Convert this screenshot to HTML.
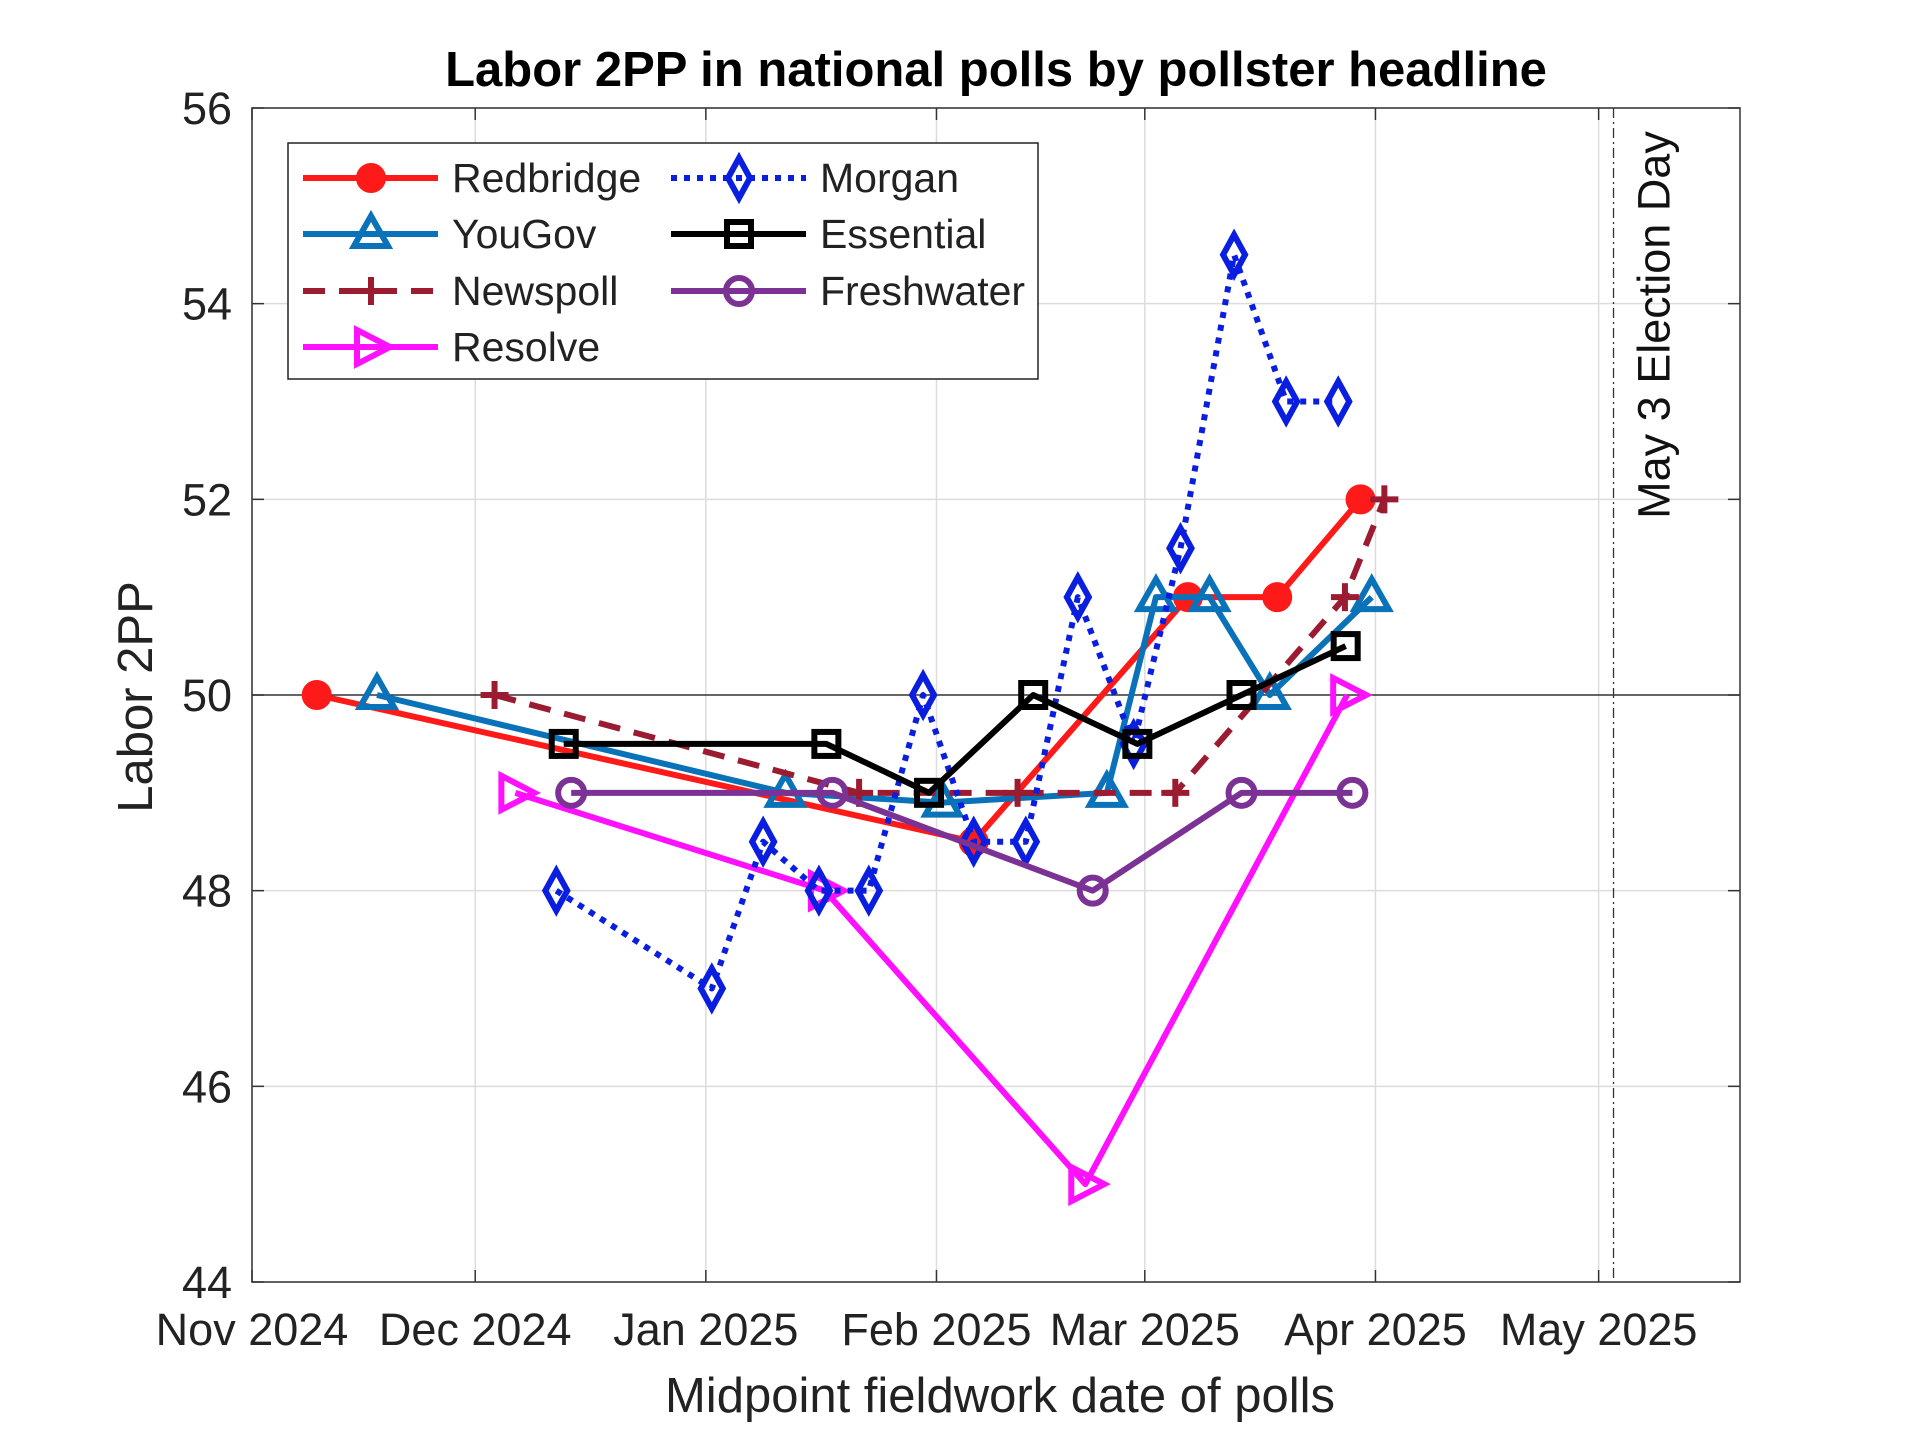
<!DOCTYPE html>
<html><head><meta charset="utf-8"><style>
html,body{margin:0;padding:0;background:#fff;}
svg{display:block;font-family:"Liberation Sans",Arial,sans-serif;}
</style></head><body>
<svg id="chart" width="1920" height="1439" viewBox="0 0 1920 1439" xmlns="http://www.w3.org/2000/svg">
<rect x="0" y="0" width="1920" height="1439" fill="#fff"/>
<text x="996" y="86" text-anchor="middle" font-size="49" font-weight="bold">Labor 2PP in national polls by pollster headline</text>
<g id="grid"></g>
<g id="axes"></g>
<g id="series"></g>
<g id="legend"></g>
</svg>
<script>
// Days since 1 Nov 2024
const xTickDays = [0, 30, 61, 92, 120, 151, 181];
const xTickLabels = ["Nov 2024","Dec 2024","Jan 2025","Feb 2025","Mar 2025","Apr 2025","May 2025"];
const yTicks = [44, 46, 48, 50, 52, 54, 56];
const electionDay = 183;

const redbridgeDays = [8.7, 97, 125.8, 137.8, 149];
const redbridgeVals = [50, 48.5, 51, 51, 52];
const yougovDays = [16.8, 71.7, 92.8, 114.9, 121.5, 128.7, 136.8, 150.5];
const yougovVals = [50, 49, 48.9, 49, 51, 51, 50, 51];
const newspollDays = [32.6, 81.6, 102.9, 124.1, 146.9, 152.2];
const newspollVals = [50, 49, 49, 49, 51, 52];
const resolveDays = [35.4, 77, 112, 147.2];
const resolveVals = [49, 48, 45, 50];
const morganDays = [40.9, 61.8, 68.7, 76.2, 82.9, 90.2, 97, 104, 111, 118.5, 124.8, 132, 139, 146];
const morganVals = [48, 47, 48.5, 48, 48, 50, 48.5, 48.5, 51, 49.5, 51.5, 54.5, 53, 53];
const essentialDays = [41.9, 77.2, 91, 105, 119, 133, 147];
const essentialVals = [49.5, 49.5, 49, 50, 49.5, 50, 50.5];
const freshwaterDays = [42.9, 78, 113, 133, 147.9];
const freshwaterVals = [49, 49, 48, 49, 49];

const L=252,R=1740,T=108,B=1282;
const X0=0,X1=200,Y0=44,Y1=56;
const xs=d=>L+(d-X0)/(X1-X0)*(R-L);
const ys=v=>B-(v-Y0)/(Y1-Y0)*(B-T);
const NS="http://www.w3.org/2000/svg";
function mk(tag,attrs,parent){const e=document.createElementNS(NS,tag);for(const k in attrs)e.setAttribute(k,attrs[k]);parent.appendChild(e);return e;}
const grid=document.getElementById('grid'),axes=document.getElementById('axes'),ser=document.getElementById('series'),leg=document.getElementById('legend');

xTickDays.forEach((d,i)=>{
  const gl=mk('line',{x1:xs(d),x2:xs(d),y1:T,y2:B,stroke:'#dcdcdc','stroke-width':1.5},grid);
  
  
  mk('line',{x1:xs(d),x2:xs(d),y1:B,y2:B-12,stroke:'#333','stroke-width':1.5},axes);
  mk('line',{x1:xs(d),x2:xs(d),y1:T,y2:T+12,stroke:'#333','stroke-width':1.5},axes);
  const t=mk('text',{x:xs(d),y:B+63,'text-anchor':'middle','font-size':45,fill:'#222'},axes);
  t.textContent=xTickLabels[i];
  
  
});
yTicks.forEach(v=>{
  const gl=mk('line',{x1:L,x2:R,y1:ys(v),y2:ys(v),stroke:v===50?'#333':'#dcdcdc','stroke-width':1.5},grid);
  
  
  mk('line',{x1:L,x2:L+12,y1:ys(v),y2:ys(v),stroke:'#333','stroke-width':1.5},axes);
  mk('line',{x1:R,x2:R-12,y1:ys(v),y2:ys(v),stroke:'#333','stroke-width':1.5},axes);
  const t=mk('text',{x:L-20,y:ys(v)+16,'text-anchor':'end','font-size':45,fill:'#222'},axes);
  t.textContent=v;
  
  
});
const box=mk('rect',{x:L,y:T,width:R-L,height:B-T,fill:'none',stroke:'#333','stroke-width':1.5},axes);


const ed=mk('line',{x1:xs(electionDay),x2:xs(electionDay),y1:T,y2:B,stroke:'#333','stroke-width':1.3,'stroke-dasharray':'10 4 2 4'},axes);


const et=mk('text',{x:0,y:0,'font-size':45,fill:'#111','text-anchor':'middle',transform:`translate(${xs(electionDay)+56},325) rotate(-90)`},axes);
et.textContent='May 3 Election Day';


const xt=mk('text',{x:1000,y:1412,'text-anchor':'middle','font-size':49,fill:'#222'},axes);
xt.textContent='Midpoint fieldwork date of polls';


const yt=mk('text',{x:0,y:0,'text-anchor':'middle','font-size':49,fill:'#222',transform:`translate(152,697) rotate(-90)`},axes);
yt.textContent='Labor 2PP';



function marker(type,x,y,color,parent){
  const s=14,w=6;
  if(type==='circle') return mk('circle',{cx:x,cy:y,r:s-2,fill:color,stroke:color,'stroke-width':w},parent);
  if(type==='ocircle') return mk('circle',{cx:x,cy:y,r:s-1,fill:'none',stroke:color,'stroke-width':w},parent);
  if(type==='tri') return mk('polygon',{points:`${x},${y-s-4} ${x-s-3},${y+s-2} ${x+s+3},${y+s-2}`,fill:'none',stroke:color,'stroke-width':w},parent);
  if(type==='rtri') return mk('polygon',{points:`${x-s},${y-s-3} ${x+s+5},${y} ${x-s},${y+s+3}`,fill:'none',stroke:color,'stroke-width':w},parent);
  if(type==='diamond') return mk('polygon',{points:`${x},${y-s-6} ${x+s-3},${y} ${x},${y+s+6} ${x-s+3},${y}`,fill:'none',stroke:color,'stroke-width':w},parent);
  if(type==='square') return mk('rect',{x:x-s+2,y:y-s+2,width:2*s-4,height:2*s-4,fill:'none',stroke:color,'stroke-width':w},parent);
  if(type==='plus'){const g=mk('g',{},parent);mk('line',{x1:x-s,x2:x+s,y1:y,y2:y,stroke:color,'stroke-width':w},g);mk('line',{x1:x,x2:x,y1:y-s,y2:y+s,stroke:color,'stroke-width':w},g);return g;}
}
const seriesDefs=[
 {name:'redbridge',label:'Redbridge',days:redbridgeDays,vals:redbridgeVals,color:'#ff1a1a',m:'circle',dash:null},
 {name:'yougov',label:'YouGov',days:yougovDays,vals:yougovVals,color:'#0a72b8',m:'tri',dash:null},
 {name:'newspoll',label:'Newspoll',days:newspollDays,vals:newspollVals,color:'#9b1b30',m:'plus',dash:'22 14'},
 {name:'resolve',label:'Resolve',days:resolveDays,vals:resolveVals,color:'#ff10ff',m:'rtri',dash:null},
 {name:'morgan',label:'Morgan',days:morganDays,vals:morganVals,color:'#0a1ee0',m:'diamond',dash:'6 7'},
 {name:'essential',label:'Essential',days:essentialDays,vals:essentialVals,color:'#000',m:'square',dash:null},
 {name:'freshwater',label:'Freshwater',days:freshwaterDays,vals:freshwaterVals,color:'#7b3294',m:'ocircle',dash:null}
];
seriesDefs.forEach(s=>{
  const g=mk('g',{},ser);
  
  
  const pts=s.days.map((d,i)=>xs(d)+','+ys(s.vals[i])).join(' ');
  const a={points:pts,fill:'none',stroke:s.color,'stroke-width':6,'stroke-linejoin':'round'};
  if(s.dash)a['stroke-dasharray']=s.dash;
  const pl=mk('polyline',a,g);
  
  
  s.days.forEach((d,i)=>{
    const m=marker(s.m,xs(d),ys(s.vals[i]),s.color,g);
    
    
  });
});
// legend
const lb=mk('rect',{x:288,y:143,width:750,height:236,fill:'#fff',stroke:'#222','stroke-width':1.5},leg);


const order=[[0,0],[1,0],[2,0],[3,0],[4,1],[5,1],[6,1]];
const rowsY=[178,234,291,347];
order.forEach(([idx,col],k)=>{
  const s=seriesDefs[idx];
  const row=col===0?k:k-4;
  const y=rowsY[row];
  const x0=col===0?303:671;
  const g=mk('g',{},leg);
  
  
  const a={x1:x0,x2:x0+135,y1:y,y2:y,stroke:s.color,'stroke-width':6};
  if(s.dash)a['stroke-dasharray']=s.dash;
  mk('line',a,g);
  marker(s.m,x0+68,y,s.color,g);
  const t=mk('text',{x:x0+149,y:y+14,'font-size':41,fill:'#222'},g);
  t.textContent=s.label;
});
</script>
</body></html>
